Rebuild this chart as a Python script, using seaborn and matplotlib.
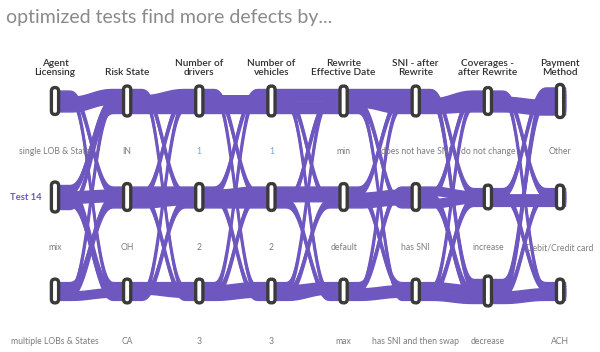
import numpy as np
import pandas as pd
import matplotlib
matplotlib.use("Agg")
import matplotlib.pyplot as plt
import seaborn as sns
from matplotlib.patches import FancyBboxPatch

# axis titles and category labels (top, middle, bottom)
dimensions = ["Agent\nLicensing", "Risk State", "Number of\ndrivers", "Number of\nvehicles",
              "Rewrite\nEffective Date", "SNI - after\nRewrite", "Coverages -\nafter Rewrite",
              "Payment\nMethod"]
categories = [
    ["single LOB & State", "mix", "multiple LOBs & States"],
    ["IN", "OH", "CA"],
    ["1", "2", "3"],
    ["1", "2", "3"],
    ["min", "default", "max"],
    ["does not have SNI", "has SNI", "has SNI and then swap"],
    ["do not change", "increase", "decrease"],
    ["Other", "Debit/Credit card", "ACH"],
]
# category index (0 = top, 1 = middle, 2 = bottom) of each test on each dimension
tests = {
    "Test 1":  [0, 1, 1, 0, 0, 0, 1, 0],
    "Test 2":  [0, 2, 2, 0, 0, 0, 2, 0],
    "Test 3":  [0, 0, 1, 1, 1, 0, 2, 0],
    "Test 4":  [0, 0, 2, 2, 0, 0, 0, 1],
    "Test 5":  [0, 0, 0, 1, 1, 2, 2, 0],
    "Test 6":  [1, 0, 0, 2, 2, 1, 1, 2],
    "Test 7":  [1, 2, 2, 1, 1, 1, 0, 2],
    "Test 8":  [1, 1, 0, 0, 1, 1, 2, 1],
    "Test 9":  [1, 1, 2, 2, 1, 1, 2, 2],
    "Test 10": [2, 1, 1, 2, 2, 0, 0, 0],
    "Test 11": [2, 0, 0, 0, 2, 2, 0, 0],
    "Test 12": [2, 1, 1, 1, 0, 0, 0, 0],
    "Test 13": [2, 2, 0, 0, 0, 1, 1, 1],
    "Test 14": [1, 2, 1, 1, 2, 2, 1, 1],
    "Test 15": [1, 0, 0, 0, 0, 2, 2, 2],
}
highlight = "Test 14"

PURPLE = "#6f57c0"
RING = "#3a3a3a"

sns.set_theme(style="white")
plt.rcParams["font.family"] = ["Lato", "DejaVu Sans"]

fig = plt.figure(figsize=(6.0, 3.52), dpi=100)
ax = fig.add_axes([0, 0, 1, 1])

col_x = 55 + 72.15 * np.arange(len(dimensions))
row_y = [101, 197, 291]
spread = 3.1      # px between neighbouring tests inside a node
ribbon = 8.5      # vertical thickness of one test ribbon

df = pd.DataFrame(tests, index=dimensions).T
names = list(df.index)
n_dim = len(dimensions)

# position of each test inside its node
ypos = np.zeros((len(names), n_dim))
counts = np.zeros((n_dim, 3), dtype=int)
for d in range(n_dim):
    for lvl in range(3):
        members = [i for i in range(len(names)) if df.iloc[i, d] == lvl]
        n = len(members)
        counts[d, lvl] = n
        for k, i in enumerate(members):
            ypos[i, d] = row_y[lvl] + (k - (n - 1) / 2) * spread


def ease(t):
    t = np.clip((t - 0.18) / 0.64, 0, 1)
    return t * t * t * (t * (6 * t - 15) + 10)


rows = []
for i, nm in enumerate(names):
    xs = [np.array([col_x[0]])]
    ys = [np.array([ypos[i, 0]])]
    for d in range(n_dim - 1):
        x = np.linspace(col_x[d], col_x[d + 1], 160)[1:]
        s = ease((x - col_x[d]) / (col_x[d + 1] - col_x[d]))
        xs.append(x)
        ys.append(ypos[i, d] + (ypos[i, d + 1] - ypos[i, d]) * s)
    xs.append(np.array([col_x[-1] + 5]))
    ys.append(np.array([ypos[i, -1]]))
    rows.append(pd.DataFrame({"x": np.concatenate(xs), "y": np.concatenate(ys), "test": nm}))
curves = pd.concat(rows, ignore_index=True)

for nm, g in curves.groupby("test", sort=False):
    ax.fill_between(g["x"], g["y"] - ribbon / 2, g["y"] + ribbon / 2, color=PURPLE,
                    edgecolor=PURPLE, lw=1.0, zorder=1)
sns.lineplot(data=curves, x="x", y="y", units="test", estimator=None, sort=False,
             color=PURPLE, lw=2.0, ax=ax, zorder=1, legend=False)

ax.set_xlim(0, 600)
ax.set_ylim(352, 0)
ax.axis("off")

# node rings
for d in range(n_dim):
    for lvl in range(3):
        h = (counts[d, lvl] - 1) * spread + ribbon + 6
        ring = FancyBboxPatch((col_x[d] - 3.6, row_y[lvl] - h / 2), 7.2, h,
                              boxstyle="round,pad=0,rounding_size=3.6",
                              facecolor="white", edgecolor=RING, lw=2.4, zorder=3)
        ax.add_patch(ring)

# texts
for d, title in enumerate(dimensions):
    ax.text(col_x[d], 77, title, ha="center", va="bottom", fontsize=7.2,
            color="#2e2e2e", fontweight="semibold", linespacing=0.95)
    for lvl, lab in enumerate(categories[d]):
        color = "#6fa8d6" if (lab == "1") else "#7d7d7d"
        ax.text(col_x[d], row_y[lvl] + 51, lab, ha="center", va="center",
                fontsize=6.2, color=color)

hl = df.loc[highlight]
ax.text(26, row_y[hl.iloc[0]], highlight, ha="center", va="center", fontsize=6.8,
        color=PURPLE, fontweight="bold")

ax.text(6, 17, "optimized tests find more defects by...", ha="left", va="center",
        fontsize=14, color="#8a8a8a")

fig.savefig("out.png", dpi=100)
